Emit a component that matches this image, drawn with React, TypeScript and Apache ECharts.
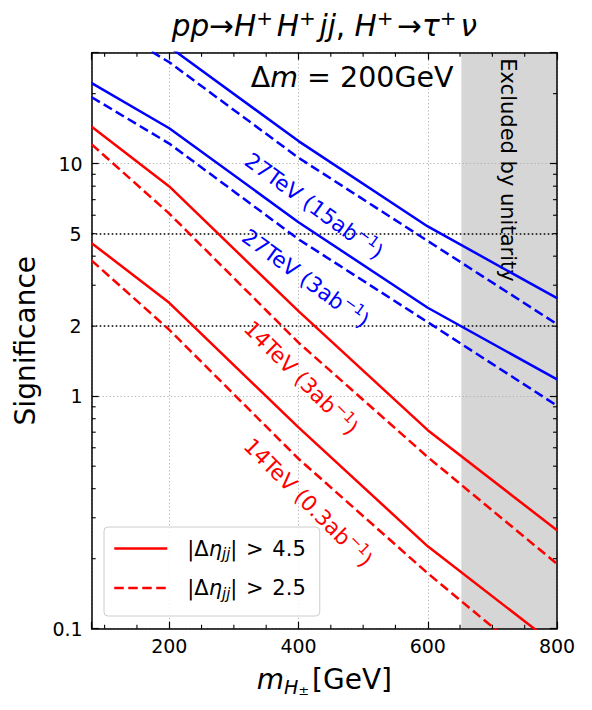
import React, { useEffect, useRef } from 'react';
import * as echarts from 'echarts';

// ---- data ----
const masses = [80, 200, 400, 600, 800];
const sig27TeV15ab_eta45 = [49.6, 31.8, 12.5, 5.37, 2.64];
const sig27TeV15ab_eta25 = [43.2, 27.3, 10.6, 4.65, 2.04];
const sig27TeV3ab_eta45 = [22.2, 14.2, 5.6, 2.4, 1.18];
const sig27TeV3ab_eta25 = [19.3, 12.2, 4.73, 2.08, 0.91];
const sig14TeV3ab_eta45 = [14.4, 7.98, 2.32, 0.714, 0.265];
const sig14TeV3ab_eta25 = [12.1, 6.1, 1.7, 0.547, 0.19];
const sig14TeV03ab_eta45 = [4.55, 2.52, 0.734, 0.226, 0.084];
const sig14TeV03ab_eta25 = [3.83, 1.93, 0.538, 0.173, 0.06];

const xRange = [80, 800];
const yRange = [0.1, 30];
const excludedRange = [652, 800];
const referenceLevels = [2, 5];
const yMajorLabels = [0.1, 1, 10];
const xMinorTicks = [100, 150, 250, 300, 350, 450, 500, 550, 650, 700, 750];
const yMinorTicks = [0.2, 0.3, 0.4, 0.5, 0.6, 0.7, 0.8, 0.9, 2, 3, 4, 5, 6, 7, 8, 9, 20];

const BLUE = '#0000ff';
const RED = '#ff0000';
const FONT = "'DejaVu Sans', sans-serif";

// annotation anchors in data coordinates
const annotations = [
  { text: '27TeV (15ab{s|−1})', x: 424, y: 6.57, angle: 36, color: BLUE },
  { text: '27TeV (3ab{s|−1})', x: 411, y: 3.21, angle: 36, color: BLUE },
  { text: '14TeV (3ab{s|−1})', x: 404, y: 1.2, angle: 45, color: RED },
  { text: '14TeV (0.3ab{s|−1})', x: 415, y: 0.349, angle: 45, color: RED },
];

function annRich(color: string) {
  return {
    n: { fontSize: 21.5, fontFamily: FONT, fill: color, color, lineHeight: 28 },
    s: { fontSize: 15, fontFamily: FONT, fill: color, color, lineHeight: 15, verticalAlign: 'top' },
  };
}

function annText(t: string) {
  return t.replace(/^([^{]*)/, '{n|$1}').replace(/\}([^{]+)$/, '}{n|$1}');
}

function lineSeries(name: string, vals: number[], color: string, dashed: boolean) {
  return {
    type: 'line',
    name,
    data: masses.map((m, i) => [m, vals[i]]),
    symbol: 'none',
    showSymbol: false,
    lineStyle: { color, width: 2.5, type: dashed ? [9.5, 4.5] : 'solid' },
    itemStyle: { color },
    z: 3,
    silent: true,
  };
}

const axisLineStyle = { color: '#000', width: 1.5 };
const tickStyle = { color: '#000', width: 1.2 };
const gridLineStyle = { color: '#b0b0b0', width: 1, type: [1.2, 2.4] };

export default function App() {
  const ref = useRef<HTMLDivElement>(null);
  useEffect(() => {
    if (!ref.current) return;
    const chart = echarts.init(ref.current, null, { renderer: 'svg' });
    const option: any = {
      animation: false,
      textStyle: { fontFamily: FONT },
      grid: { left: 91.7, right: 35, top: 52.7, bottom: 81.3, containLabel: false, outerBoundsMode: 'none' },
      legend: {
        show: true,
        data: ['eta45', 'eta25'],
        orient: 'vertical',
        left: 104,
        top: 527,
        padding: [11, 14, 15, 9],
        itemWidth: 53,
        itemHeight: 24,
        itemGap: 16,
        borderColor: '#cccccc',
        borderWidth: 1,
        borderRadius: 4,
        backgroundColor: 'rgba(255,255,255,0.85)',
        selectedMode: false,
        itemStyle: { opacity: 0, borderWidth: 0 },
        lineStyle: { width: 2.5 },
        formatter: (name: string) =>
          name === 'eta45'
            ? '{n||Δ}{i|η}{b|jj}{n||}{g| }{n|>}{g| }{n|4.5}'
            : '{n||Δ}{i|η}{b|jj}{n||}{g| }{n|>}{g| }{n|2.5}',
        textStyle: {
          fontSize: 21,
          color: '#000',
          fontFamily: FONT,
          padding: [0, 0, 0, 15],
          rich: {
            n: { fontSize: 21, fontFamily: FONT, color: '#000', lineHeight: 26 },
            g: { fontSize: 21, fontFamily: FONT, color: '#000', lineHeight: 26, padding: [0, 1, 0, 1] },
            i: { fontSize: 21, fontFamily: FONT, fontStyle: 'italic', color: '#000', lineHeight: 26 },
            b: { fontSize: 15, fontFamily: FONT, fontStyle: 'italic', color: '#000', lineHeight: 14, verticalAlign: 'bottom' },
          },
        },
      },
      xAxis: [
        {
          type: 'value',
          min: xRange[0],
          max: xRange[1],
          splitNumber: 4,
          position: 'bottom',
          axisLine: { show: true, onZero: false, lineStyle: axisLineStyle },
          axisTick: { show: true, inside: true, length: 7, lineStyle: tickStyle },
          axisLabel: {
            fontSize: 19,
            color: '#000',
            fontFamily: FONT,
            margin: 8,
            showMaxLabel: true,
            formatter: (v: number) => (v % 200 === 0 ? String(v) : ''),
          },
          splitLine: { show: true, lineStyle: gridLineStyle },
          name: '{i|m}{si|H}{ss|±}{n|[GeV]}',
          nameLocation: 'middle',
          nameGap: 34,
          nameTextStyle: {
            fontSize: 28,
            color: '#000',
            fontFamily: FONT,
            rich: {
              i: { fontSize: 28, fontStyle: 'italic', fontFamily: FONT, color: '#000', lineHeight: 34 },
              si: { fontSize: 19, fontStyle: 'italic', fontFamily: FONT, color: '#000', lineHeight: 20, verticalAlign: 'bottom' },
              ss: { fontSize: 13, fontFamily: FONT, color: '#000', lineHeight: 26, verticalAlign: 'bottom', padding: [0, 3, 0, 0] },
              n: { fontSize: 28, fontFamily: FONT, color: '#000', lineHeight: 34 },
            },
          },
        },
        {
          type: 'value',
          min: xRange[0],
          max: xRange[1],
          splitNumber: 4,
          position: 'top',
          axisLine: { show: true, onZero: false, lineStyle: axisLineStyle },
          axisTick: { show: true, inside: true, length: 7, lineStyle: tickStyle },
          axisLabel: { show: false },
          splitLine: { show: false },
        },
      ],
      yAxis: [
        {
          type: 'log',
          logBase: 10,
          min: yRange[0],
          max: yRange[1],
          position: 'left',
          axisLine: { show: true, onZero: false, lineStyle: axisLineStyle },
          axisTick: { show: true, inside: true, length: 7, lineStyle: tickStyle },
          axisLabel: {
            fontSize: 19,
            color: '#000',
            fontFamily: FONT,
            margin: 9,
            formatter: (v: number) => {
              const m = yMajorLabels.find((t) => Math.abs(v - t) / t < 1e-6);
              return m === undefined ? '' : String(m);
            },
          },
          splitLine: { show: true, lineStyle: gridLineStyle },
          name: 'Significance',
          nameLocation: 'middle',
          nameGap: 52,
          nameTextStyle: { fontSize: 28, color: '#000', fontFamily: FONT },
        },
        {
          type: 'log',
          logBase: 10,
          min: yRange[0],
          max: yRange[1],
          position: 'right',
          axisLine: { show: true, onZero: false, lineStyle: axisLineStyle },
          axisTick: { show: true, inside: true, length: 7, lineStyle: tickStyle },
          axisLabel: { show: false },
          splitLine: { show: false },
        },
      ],
      series: [
        {
          type: 'line',
          name: 'excluded',
          data: [],
          z: -1,
          silent: true,
          markArea: {
            silent: true,
            z: -1,
            itemStyle: { color: '#d6d6d6' },
            data: [[{ xAxis: excludedRange[0] }, { xAxis: excludedRange[1] }]],
          },
          markLine: {
            silent: true,
            symbol: 'none',
            z: 1,
            lineStyle: { color: '#000', width: 1.6, type: [1.6, 2.4] },
            label: { show: true, position: 'start', distance: 10, fontSize: 19, color: '#000', fontFamily: FONT, formatter: (p: any) => String(p.value) },
            data: referenceLevels.map((v) => ({ yAxis: v })),
          },
        },
        lineSeries('27TeV 15ab eta45', sig27TeV15ab_eta45, BLUE, false),
        lineSeries('27TeV 15ab eta25', sig27TeV15ab_eta25, BLUE, true),
        lineSeries('27TeV 3ab eta45', sig27TeV3ab_eta45, BLUE, false),
        lineSeries('27TeV 3ab eta25', sig27TeV3ab_eta25, BLUE, true),
        lineSeries('eta45', sig14TeV3ab_eta45, RED, false),
        lineSeries('eta25', sig14TeV3ab_eta25, RED, true),
        lineSeries('14TeV 0.3ab eta45', sig14TeV03ab_eta45, RED, false),
        lineSeries('14TeV 0.3ab eta25', sig14TeV03ab_eta25, RED, true),
        {
          type: 'custom',
          name: 'minorTicks',
          silent: true,
          clip: false,
          z: 4,
          data: [
            ...yMinorTicks.map((v) => [xRange[0], v, 0]),
            ...xMinorTicks.map((v) => [v, yRange[0], 1]),
          ],
          renderItem: (params: any, api: any) => {
            const cs = params.coordSys;
            const kind = api.value(2);
            const p = api.coord([api.value(0), api.value(1)]);
            const st = { stroke: '#000', lineWidth: 1.1 };
            const L = 4;
            if (kind === 0) {
              return {
                type: 'group',
                children: [
                  { type: 'line', shape: { x1: cs.x, y1: p[1], x2: cs.x + L, y2: p[1] }, style: st },
                  { type: 'line', shape: { x1: cs.x + cs.width, y1: p[1], x2: cs.x + cs.width - L, y2: p[1] }, style: st },
                ],
              };
            }
            return {
              type: 'group',
              children: [
                { type: 'line', shape: { x1: p[0], y1: cs.y + cs.height, x2: p[0], y2: cs.y + cs.height - L }, style: st },
                { type: 'line', shape: { x1: p[0], y1: cs.y, x2: p[0], y2: cs.y + L }, style: st },
              ],
            };
          },
        },
      ],
    };
    chart.setOption(option);

    const toPx = (x: number, y: number) =>
      chart.convertToPixel({ xAxisIndex: 0, yAxisIndex: 0 } as any, [x, y]) as number[];
    const centerX = toPx((xRange[0] + xRange[1]) / 2, 1)[0];
    const dm = toPx(483, 23.4);
    const ex = toPx(724, 9.39);

    const graphics: any[] = [
      {
        type: 'text',
        x: centerX,
        y: 26,
        silent: true,
        style: {
          text: '{i|pp}{n|→}{i|H}{s|+}{g| }{i|H}{s|+}{g| }{i|jj}{n|, }{i|H}{s|+}{g| }{n|→}{i|τ}{s|+}{g| }{i|ν}',
          align: 'center',
          verticalAlign: 'middle',
          fill: '#000',
          fontSize: 29.5,
          fontFamily: FONT,
          rich: {
            i: { fontSize: 29.5, fontStyle: 'italic', fontFamily: FONT, fill: '#000', lineHeight: 36 },
            n: { fontSize: 29.5, fontFamily: FONT, fill: '#000', lineHeight: 36 },
            s: { fontSize: 20, fontFamily: FONT, fill: '#000', lineHeight: 20, verticalAlign: 'top' },
            g: { fontSize: 12, fontFamily: FONT, fill: '#000', lineHeight: 12 },
          },
        },
      },
      {
        type: 'text',
        x: dm[0],
        y: dm[1],
        silent: true,
        style: {
          text: '{n|Δ}{i|m}{n| = 200GeV}',
          align: 'center',
          verticalAlign: 'middle',
          fill: '#000',
          fontSize: 28.5,
          fontFamily: FONT,
          rich: {
            i: { fontSize: 28.5, fontStyle: 'italic', fontFamily: FONT, fill: '#000' },
            n: { fontSize: 28.5, fontFamily: FONT, fill: '#000' },
          },
        },
      },
      {
        type: 'text',
        x: ex[0],
        y: ex[1],
        rotation: -Math.PI / 2,
        silent: true,
        style: {
          text: 'Excluded by unitarity',
          align: 'center',
          verticalAlign: 'middle',
          fill: '#000',
          fontSize: 21,
          fontFamily: FONT,
        },
      },
      ...annotations.map((a) => {
        const p = toPx(a.x, a.y);
        return {
          type: 'text',
          x: p[0],
          y: p[1],
          rotation: (-a.angle * Math.PI) / 180,
          silent: true,
          z: 10,
          style: {
            text: annText(a.text),
            align: 'center',
            verticalAlign: 'middle',
            fill: a.color,
            fontSize: 21.5,
            fontFamily: FONT,
            rich: annRich(a.color),
          },
        };
      }),
    ];
    chart.setOption({ graphic: graphics });

    return () => chart.dispose();
  }, []);

  return (
    <div
      ref={ref}
      style={{ position: 'absolute', left: 0, top: 0, width: 592, height: 710, background: '#fff' }}
    />
  );
}
